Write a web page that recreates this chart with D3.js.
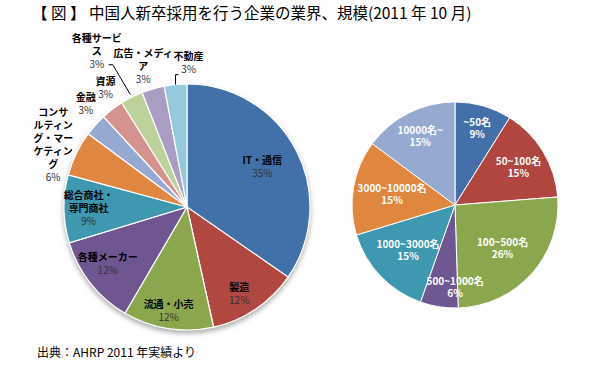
<!DOCTYPE html>
<html>
<head>
<meta charset="utf-8">
<script src="https://cdn.jsdelivr.net/npm/d3@7"></script>
<style>
  body { margin: 0; background: #fff; }
  text { font-family: "Noto Sans CJK JP", "Noto Sans", sans-serif; }
</style>
</head>
<body>
<div id="chart"></div>
<script>
// industry pie (left)
const industryNames = [
  ['IT・通信'], ['製造'], ['流通・小売'], ['各種メーカー'], ['総合商社・', '専門商社'],
  ['コンサ', 'ルティン', 'グ・マー', 'ケティン', 'グ'],
  ['金融'], ['資源'], ['各種サービ', 'ス'], ['広告・メディ', 'ア'], ['不動産']
];
const industryValues = [35, 12, 12, 12, 9, 6, 3, 3, 3, 3, 3];
const industryColors = ['#4370a8', '#b0463f', '#8ba74e', '#6f5791', '#3d98b0', '#df873f',
  '#95a9d1', '#d4938f', '#bdd29b', '#a99dc4', '#95c8da'];

// company size pie (right)
const sizeNames = ['~50名', '50~100名', '100~500名', '500~1000名', '1000~3000名', '3000~10000名', '10000名~'];
const sizeValues = [9, 15, 26, 6, 15, 15, 15];
const sizeColors = ['#4370a8', '#b0463f', '#8ba74e', '#6f5791', '#3d98b0', '#df873f', '#95a9d1'];

const titleText = '【 図 】 中国人新卒採用を行う企業の業界、規模(2011 年 10 月)';
const sourceText = '出典：AHRP 2011 年実績より';

const w = 600, h = 365;

const svg = d3.select('#chart')
  .append('svg')
    .attr('width', w)
    .attr('height', h);

svg.append('rect').attr('width', w).attr('height', h).attr('fill', '#fff');

let defs = svg.append('defs');
defs.append('filter')
    .attr('id', 'shadow')
    .attr('x', '-20%').attr('y', '-20%')
    .attr('width', '140%').attr('height', '140%')
  .append('feDropShadow')
    .attr('dx', 0).attr('dy', 3)
    .attr('stdDeviation', 2.5)
    .attr('flood-color', '#777')
    .attr('flood-opacity', 0.6);

svg.append('text')
  .attr('x', 32)
  .attr('y', 19)
  .attr('font-size', 15.5)
  .attr('fill', '#000')
  .text(titleText);

svg.append('text')
  .attr('x', 37)
  .attr('y', 357)
  .attr('font-size', 12)
  .attr('fill', '#000')
  .text(sourceText);

const pie = d3.pie().sort(null).value(d => d);

// ---- left pie ----
const L = {cx: 187, cy: 207, r: 123};
// label placement: radius factor + small nudge
const industryLabelK = [0.7, 0.82, 0.86, 0.79, 0.8, 1.2, 1.17, 1.17, 1.45, 1.2, 1.17];
const industryNudge = [[-1, -1], [-4, 3], [-2, -1], [-3, -4], [0, -1], [-1, 2], [6, -7], [6, -5], [-10, 3], [-3, 1], [15, -1]];

const gL = svg.append('g').attr('transform', `translate(${L.cx}, ${L.cy})`);
const arcL = d3.arc().innerRadius(0).outerRadius(L.r);
const arcsL = pie(industryValues);

gL.append('g')
    .attr('filter', 'url(#shadow)')
  .selectAll('path')
  .data(arcsL).enter()
  .append('path')
    .attr('d', arcL)
    .attr('fill', (d, i) => industryColors[i])
    .attr('stroke', '#fff')
    .attr('stroke-width', 1.2);

const polar = (ang, rad) => [rad * Math.sin(ang), -rad * Math.cos(ang)];
const midAngle = d => (d.startAngle + d.endAngle) / 2;

let labelPosL = arcsL.map((d, i) => {
  let p = polar(midAngle(d), L.r * industryLabelK[i]);
  return [p[0] + industryNudge[i][0], p[1] + industryNudge[i][1]];
});

// leader lines
// 各種サービス
{
  let i = 8, p = labelPosL[i];
  let e = polar(midAngle(arcsL[i]), L.r + 3);
  gL.append('path')
    .attr('d', `M${p[0] + 12},${p[1] + 14}L${p[0] + 16},${p[1] + 14}L${e[0]},${e[1]}`)
    .attr('fill', 'none')
    .attr('stroke', '#000')
    .attr('stroke-width', 1);
}
// 不動産
{
  let i = 10, p = labelPosL[i];
  let e = polar(midAngle(arcsL[i]), L.r);
  gL.append('path')
    .attr('d', `M${p[0] - 10},${p[1] + 12}L${e[0]},${p[1] + 12}L${e[0]},${e[1]}`)
    .attr('fill', 'none')
    .attr('stroke', '#000')
    .attr('stroke-width', 1);
}

const lineH = 13;
arcsL.forEach((d, i) => {
  let lines = industryNames[i];
  let p = labelPosL[i];
  let n = lines.length + 1;
  let y0 = p[1] - (n - 1) * lineH / 2;
  lines.forEach((s, j) => {
    gL.append('text')
      .attr('text-anchor', 'middle')
      .attr('font-size', 10)
      .attr('x', p[0])
      .attr('y', y0 + j * lineH + 4)
      .attr('font-weight', 'bold')
      .attr('fill', '#000')
      .text(s);
  });
  gL.append('text')
    .attr('text-anchor', 'middle')
    .attr('font-size', 10)
    .attr('x', p[0])
    .attr('y', y0 + lines.length * lineH + 4)
    .attr('fill', '#333')
    .text(industryValues[i] + '%');
});

// ---- right pie ----
const R = {cx: 455, cy: 205, r: 103};
const sizeLabelK = [0.78, 0.72, 0.62, 0.81, 0.63, 0.62, 0.75];
const sizeNudge = [[0, 0], [0, 0], [0, 0], [13, 0], [0, 0], [0, 0], [0, 0]];

const gR = svg.append('g').attr('transform', `translate(${R.cx}, ${R.cy})`);
const arcR = d3.arc().innerRadius(0).outerRadius(R.r);
const arcsR = pie(sizeValues);

gR.selectAll('path')
  .data(arcsR).enter()
  .append('path')
    .attr('d', arcR)
    .attr('fill', (d, i) => sizeColors[i])
    .attr('stroke', '#fff')
    .attr('stroke-width', 1);

arcsR.forEach((d, i) => {
  let p = polar(midAngle(d), R.r * sizeLabelK[i]);
  p = [p[0] + sizeNudge[i][0], p[1] + sizeNudge[i][1]];
  [sizeNames[i], sizeValues[i] + '%'].forEach((s, j) => {
    gR.append('text')
      .attr('text-anchor', 'middle')
      .attr('font-size', 10)
      .attr('font-weight', 'bold')
      .attr('fill', '#fff')
      .attr('x', p[0])
      .attr('y', p[1] - 2 + j * 12)
      .text(s);
  });
});
</script>
</body>
</html>
